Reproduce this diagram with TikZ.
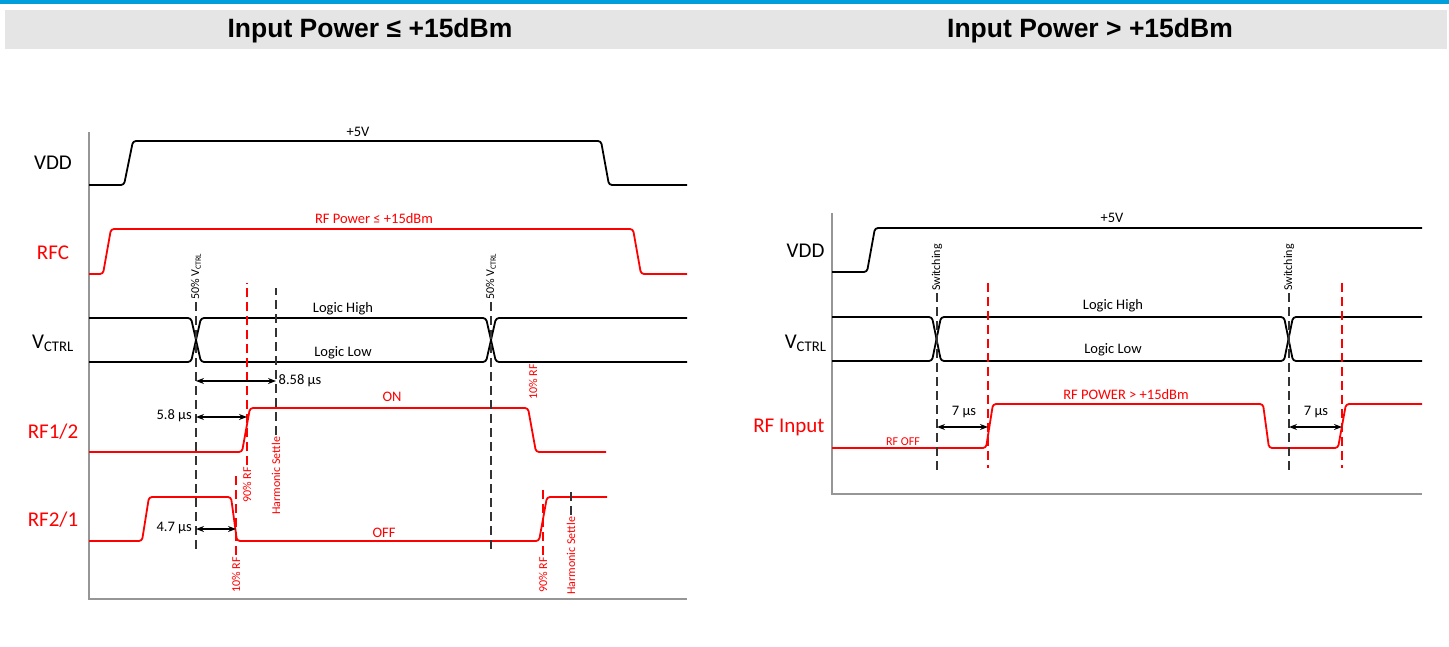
\documentclass[tikz,border=0pt]{standalone}
\usepackage{fontspec}
\setmainfont{Carlito}
\newfontfamily\headfont{Liberation Sans}
\usetikzlibrary{arrows.meta}

\definecolor{bannerblue}{RGB}{0,158,219}
\definecolor{bannergray}{RGB}{229,229,229}
\definecolor{axisgray}{RGB}{150,150,150}
\definecolor{rfred}{RGB}{255,0,0}

\tikzset{
  sig/.style={line width=1.8pt, rounded corners=3pt},
  rfsig/.style={sig, rfred},
  axisline/.style={axisgray, line width=1.5pt},
  guide/.style={black!80, line width=1.5pt, dash pattern=on 9pt off 5pt},
  rfguide/.style={guide, rfred},
  dim/.style={{Stealth[length=8pt,width=6pt]}-{Stealth[length=8pt,width=6pt]}, line width=1.3pt},
  siglabel/.style={font=\fontsize{21}{25}\selectfont},
  txt/.style={font=\fontsize{14.5}{17}\selectfont, inner sep=2pt},
  tag/.style={font=\fontsize{12}{14}\selectfont, rotate=90, anchor=west, inner xsep=2pt, inner ysep=0pt},
  title/.style={font=\headfont\bfseries\fontsize{26.5}{30}\selectfont},
}

\begin{document}
\begin{tikzpicture}[x=1pt, y=-1pt]
\useasboundingbox (0,0) rectangle (1449,647);

% banners
\fill[bannerblue] (0,0) rectangle (1449,4);
\fill[bannergray] (5,10) rectangle (1447,49);
\node[title] (titleleft) at (370,31) {Input Power ≤ +15dBm};
\node[title] (titleright) at (1090,31) {Input Power > +15dBm};

% ---- left: input power <= +15dBm ----
\draw[axisline] (89,132) -- (89,599) -- (687,599);

\node[siglabel] (vddL) at (53,163) {VDD};
\node[siglabel, rfred] (rfcL) at (53,253) {RFC};
\node[siglabel] (vctrlL) at (53,343) {V\textsubscript{CTRL}};
\node[siglabel, rfred] (rf12) at (53,432) {RF1/2};
\node[siglabel, rfred] (rf21) at (53,520) {RF2/1};

\draw[sig] (89,185) -- (124,185) -- (133,141) -- (601,141) -- (609,185) -- (687,185);
\node[txt] (fivevL) at (358,132) {+5V};
\draw[rfsig] (89,274) -- (103,274) -- (111,229) -- (633,229) -- (641,274) -- (687,274);
\node[txt, rfred] (rfpow) at (374,219) {RF Power ≤ +15dBm};

\draw[sig] (89,318) -- (191,318) -- (201,362) -- (486,362) -- (496,318) -- (687,318);
\draw[sig] (89,362) -- (191,362) -- (201,318) -- (486,318) -- (496,362) -- (687,362);
\node[txt] (highL) at (343,309) {Logic High};
\node[txt] (lowL) at (343,353) {Logic Low};

\draw[rfsig] (89,452) -- (242,452) -- (250,408) -- (528,408) -- (536,452) -- (606,452);
\node[txt, rfred] (on) at (392,397) {ON};
\draw[rfsig] (89,541) -- (142,541) -- (149,497) -- (231,497) -- (237,541) -- (539,541) -- (547,497) -- (607,497);
\node[txt, rfred] (off) at (384,533) {OFF};

% markers
\node[tag] (half1) at (196,302) {50\% V\textsubscript{CTRL}};
\draw[guide] (half1.west) -- ++(0,248);
\node[tag] (half2) at (491,302) {50\% V\textsubscript{CTRL}};
\draw[guide] (half2.west) -- ++(0,249);
\node[tag, rfred] (ninety1) at (247,505) {90\% RF};
\draw[rfguide] (ninety1.east) -- (247,283);
\node[tag, rfred] (settle1) at (276,517) {Harmonic Settle};
\draw[guide] (settle1.east) -- (276,288);
\node[tag, rfred] (ten1) at (236,595) {10\% RF};
\draw[rfguide] (ten1.east) -- (236,472);
\node[tag, rfred] (ten2) at (533,402) {10\% RF};
\node[tag, rfred] (ninety2) at (543,595) {90\% RF};
\draw[rfguide] (ninety2.east) -- (543,487);
\node[tag, rfred] (settle2) at (571,597) {Harmonic Settle};
\draw[guide] (settle2.east) -- (571,487);

\draw[dim] (196,381) -- (276,381) node[txt, right] (t858) {8.58 µs};
\draw[dim] (196,417) -- (247,417);
\node[txt, anchor=east] (t58) at (194,416) {5.8 µs};
\draw[dim] (196,529) -- (236,529);
\node[txt, anchor=east] (t47) at (194,528) {4.7 µs};

% ---- right: input power > +15dBm ----
\draw[axisline] (832,213) -- (832,494) -- (1422,494);

\node[siglabel, anchor=east] (vddR) at (828,251) {VDD};
\node[siglabel, anchor=east] (vctrlR) at (830,343) {V\textsubscript{CTRL}};
\node[siglabel, rfred, anchor=east] (rfin) at (828,427) {RF Input};

\draw[sig] (832,272) -- (867,272) -- (875,228) -- (1422,228);
\node[txt] (fivevR) at (1112,218) {+5V};

\draw[sig] (832,317) -- (932,317) -- (941,361) -- (1284,361) -- (1293,317) -- (1422,317);
\draw[sig] (832,361) -- (932,361) -- (941,317) -- (1284,317) -- (1293,361) -- (1422,361);
\node[txt] (highR) at (1113,306) {Logic High};
\node[txt] (lowR) at (1113,350) {Logic Low};

\draw[rfsig] (832,448) -- (986,448) -- (993,404) -- (1263,404) -- (1269,448) -- (1338,448) -- (1346,404) -- (1422,404);
\node[font=\fontsize{12}{14}\selectfont, rfred] (rfoff) at (903,442) {RF OFF};
\node[txt, rfred] (rfhigh) at (1126,395) {RF POWER > +15dBm};

\node[tag] (switch1) at (937,293) {Switching};
\draw[guide] (switch1.west) -- ++(0,177);
\node[tag] (switch2) at (1289,293) {Switching};
\draw[guide] (switch2.west) -- ++(0,177);
\draw[rfguide] (988,283) -- (988,468);
\draw[rfguide] (1342,283) -- (1342,468);

\draw[dim] (937,427) -- (988,427);
\node[txt] (t7a) at (964,412) {7 µs};
\draw[dim] (1289,427) -- (1342,427);
\node[txt] (t7b) at (1316,412) {7 µs};
\end{tikzpicture}
\end{document}
